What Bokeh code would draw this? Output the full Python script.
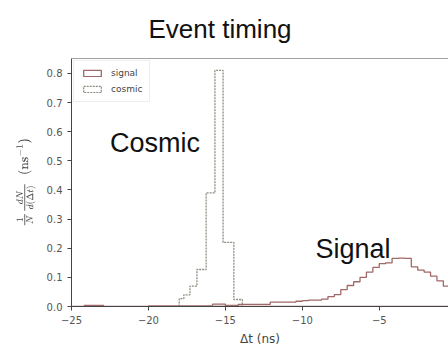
import numpy as np
from bokeh.plotting import figure
from bokeh.models import Range1d, FixedTicker, Label, Span, Legend, LegendItem
from bokeh.embed import file_html
from bokeh.resources import INLINE

# ---- data ----
x_ticks = [-25, -20, -15, -10, -5]
x_tick_labels = ["\u221225", "\u221220", "\u221215", "\u221210", "\u22125"]
y_ticks = [0.0, 0.1, 0.2, 0.3, 0.4, 0.5, 0.6, 0.7, 0.8]
y_tick_labels = ["0.0", "0.1", "0.2", "0.3", "0.4", "0.5", "0.6", "0.7", "0.8"]

signal_edges = list(np.linspace(-25.0, 0.0, 61))
signal_heights = [
    0, 0, 0.004, 0.004, 0.004, 0, 0, 0, 0, 0,
    0, 0, 0.002, 0.002, 0.002, 0.002, 0.002, 0.002, 0.002, 0.002,
    0.002, 0.002, 0.008, 0.008, 0.004, 0.004, 0.007, 0.007, 0.007, 0.007,
    0.007, 0.015, 0.015, 0.015, 0.015, 0.018, 0.020, 0.022, 0.022, 0.025,
    0.034, 0.041, 0.058, 0.072, 0.085, 0.100, 0.118, 0.134, 0.147, 0.150,
    0.165, 0.166, 0.165, 0.136, 0.125, 0.118, 0.104, 0.088, 0.070, 0.050,
]

cosmic_edges = [-18.0, -17.7, -17.3, -16.85, -16.25, -15.68, -15.15, -14.45, -13.9]
cosmic_heights = [0.027, 0.040, 0.070, 0.127, 0.390, 0.810, 0.220, 0.024]


def outline(edges, heights):
    xs, ys = [edges[0]], [0.0]
    for i, h in enumerate(heights):
        xs += [edges[i], edges[i + 1]]
        ys += [h, h]
    xs.append(edges[-1])
    ys.append(0.0)
    return xs, ys


p = figure(
    width=448, height=348,
    x_range=Range1d(-25, -0.5), y_range=Range1d(0, 0.851),
    output_backend="svg", toolbar_location=None,
    min_border_left=71, min_border_right=0, min_border_bottom=41, min_border_top=58,
    title="Event timing",
)
p.title.text_font = "Liberation Sans"
p.title.text_font_size = "26px"
p.title.text_font_style = "normal"
p.title.text_color = "#111111"
p.title.align = "left"
p.title.offset = 77
p.title.vertical_align = "top"
p.title.standoff = 26

p.outline_line_color = None
p.background_fill_color = "white"
p.border_fill_color = "white"
p.xgrid.visible = False
p.ygrid.visible = False

sx, sy = outline(signal_edges, signal_heights)
cx, cy = outline(cosmic_edges, cosmic_heights)

r_sig = p.patch(sx, sy, fill_alpha=0, line_color="#a06868", line_width=1.3)
r_cos = p.patch(cx, cy, fill_alpha=0, line_color="#8a9080", line_width=1.3, line_dash="2 1")

# top spine
p.add_layout(Span(location=0.851, dimension="width", line_color="#444444", line_width=1))

for ax in (p.xaxis[0], p.yaxis[0]):
    ax.axis_line_color = "#444444"
    ax.major_tick_line_color = "#444444"
    ax.minor_tick_line_color = None
    ax.major_tick_in = 0
    ax.major_tick_out = 4
    ax.major_label_text_font = "DejaVu Sans"
    ax.major_label_text_font_size = "10px"
    ax.major_label_text_color = "#555555"

p.xaxis.ticker = FixedTicker(ticks=x_ticks)
p.xaxis.major_label_overrides = {t: l for t, l in zip(x_ticks, x_tick_labels)}
p.yaxis.ticker = FixedTicker(ticks=y_ticks)
p.yaxis.major_label_overrides = {t: l for t, l in zip(y_ticks, y_tick_labels)}

p.xaxis.axis_label = "\u0394t (ns)"
p.xaxis.axis_label_text_font = "DejaVu Sans"
p.xaxis.axis_label_text_font_style = "normal"
p.xaxis.axis_label_text_font_size = "12px"
p.xaxis.axis_label_text_color = "#444444"
p.xaxis.axis_label_standoff = 5

p.yaxis.axis_label = r"$$\tfrac{1}{N}\tfrac{dN}{d(\Delta t)}\;\;(\mathrm{ns}^{-1})$$"
p.yaxis.axis_label_text_font_size = "11px"
p.yaxis.axis_label_text_color = "#444444"
p.yaxis.axis_label_standoff = 8

p.add_layout(Label(x=-22.5, y=0.51, text="Cosmic", text_font="Liberation Sans",
                   text_font_size="27px", text_color="#111111"))
p.add_layout(Label(x=-9.15, y=0.145, text="Signal", text_font="Liberation Sans",
                   text_font_size="27px", text_color="#111111"))

legend = Legend(items=[LegendItem(label="signal", renderers=[r_sig]),
                       LegendItem(label="cosmic", renderers=[r_cos])],
                location="top_left")
legend.label_text_font = "DejaVu Sans"
legend.label_text_font_size = "9px"
legend.label_text_color = "#444444"
legend.glyph_width = 22
legend.glyph_height = 8
legend.label_height = 9
legend.label_standoff = 8
legend.spacing = 6
legend.padding = 7
legend.margin = 2
legend.border_line_color = "#dddddd"
legend.background_fill_alpha = 0.9
p.add_layout(legend)

open("out.html", "w").write(file_html(p, INLINE))
